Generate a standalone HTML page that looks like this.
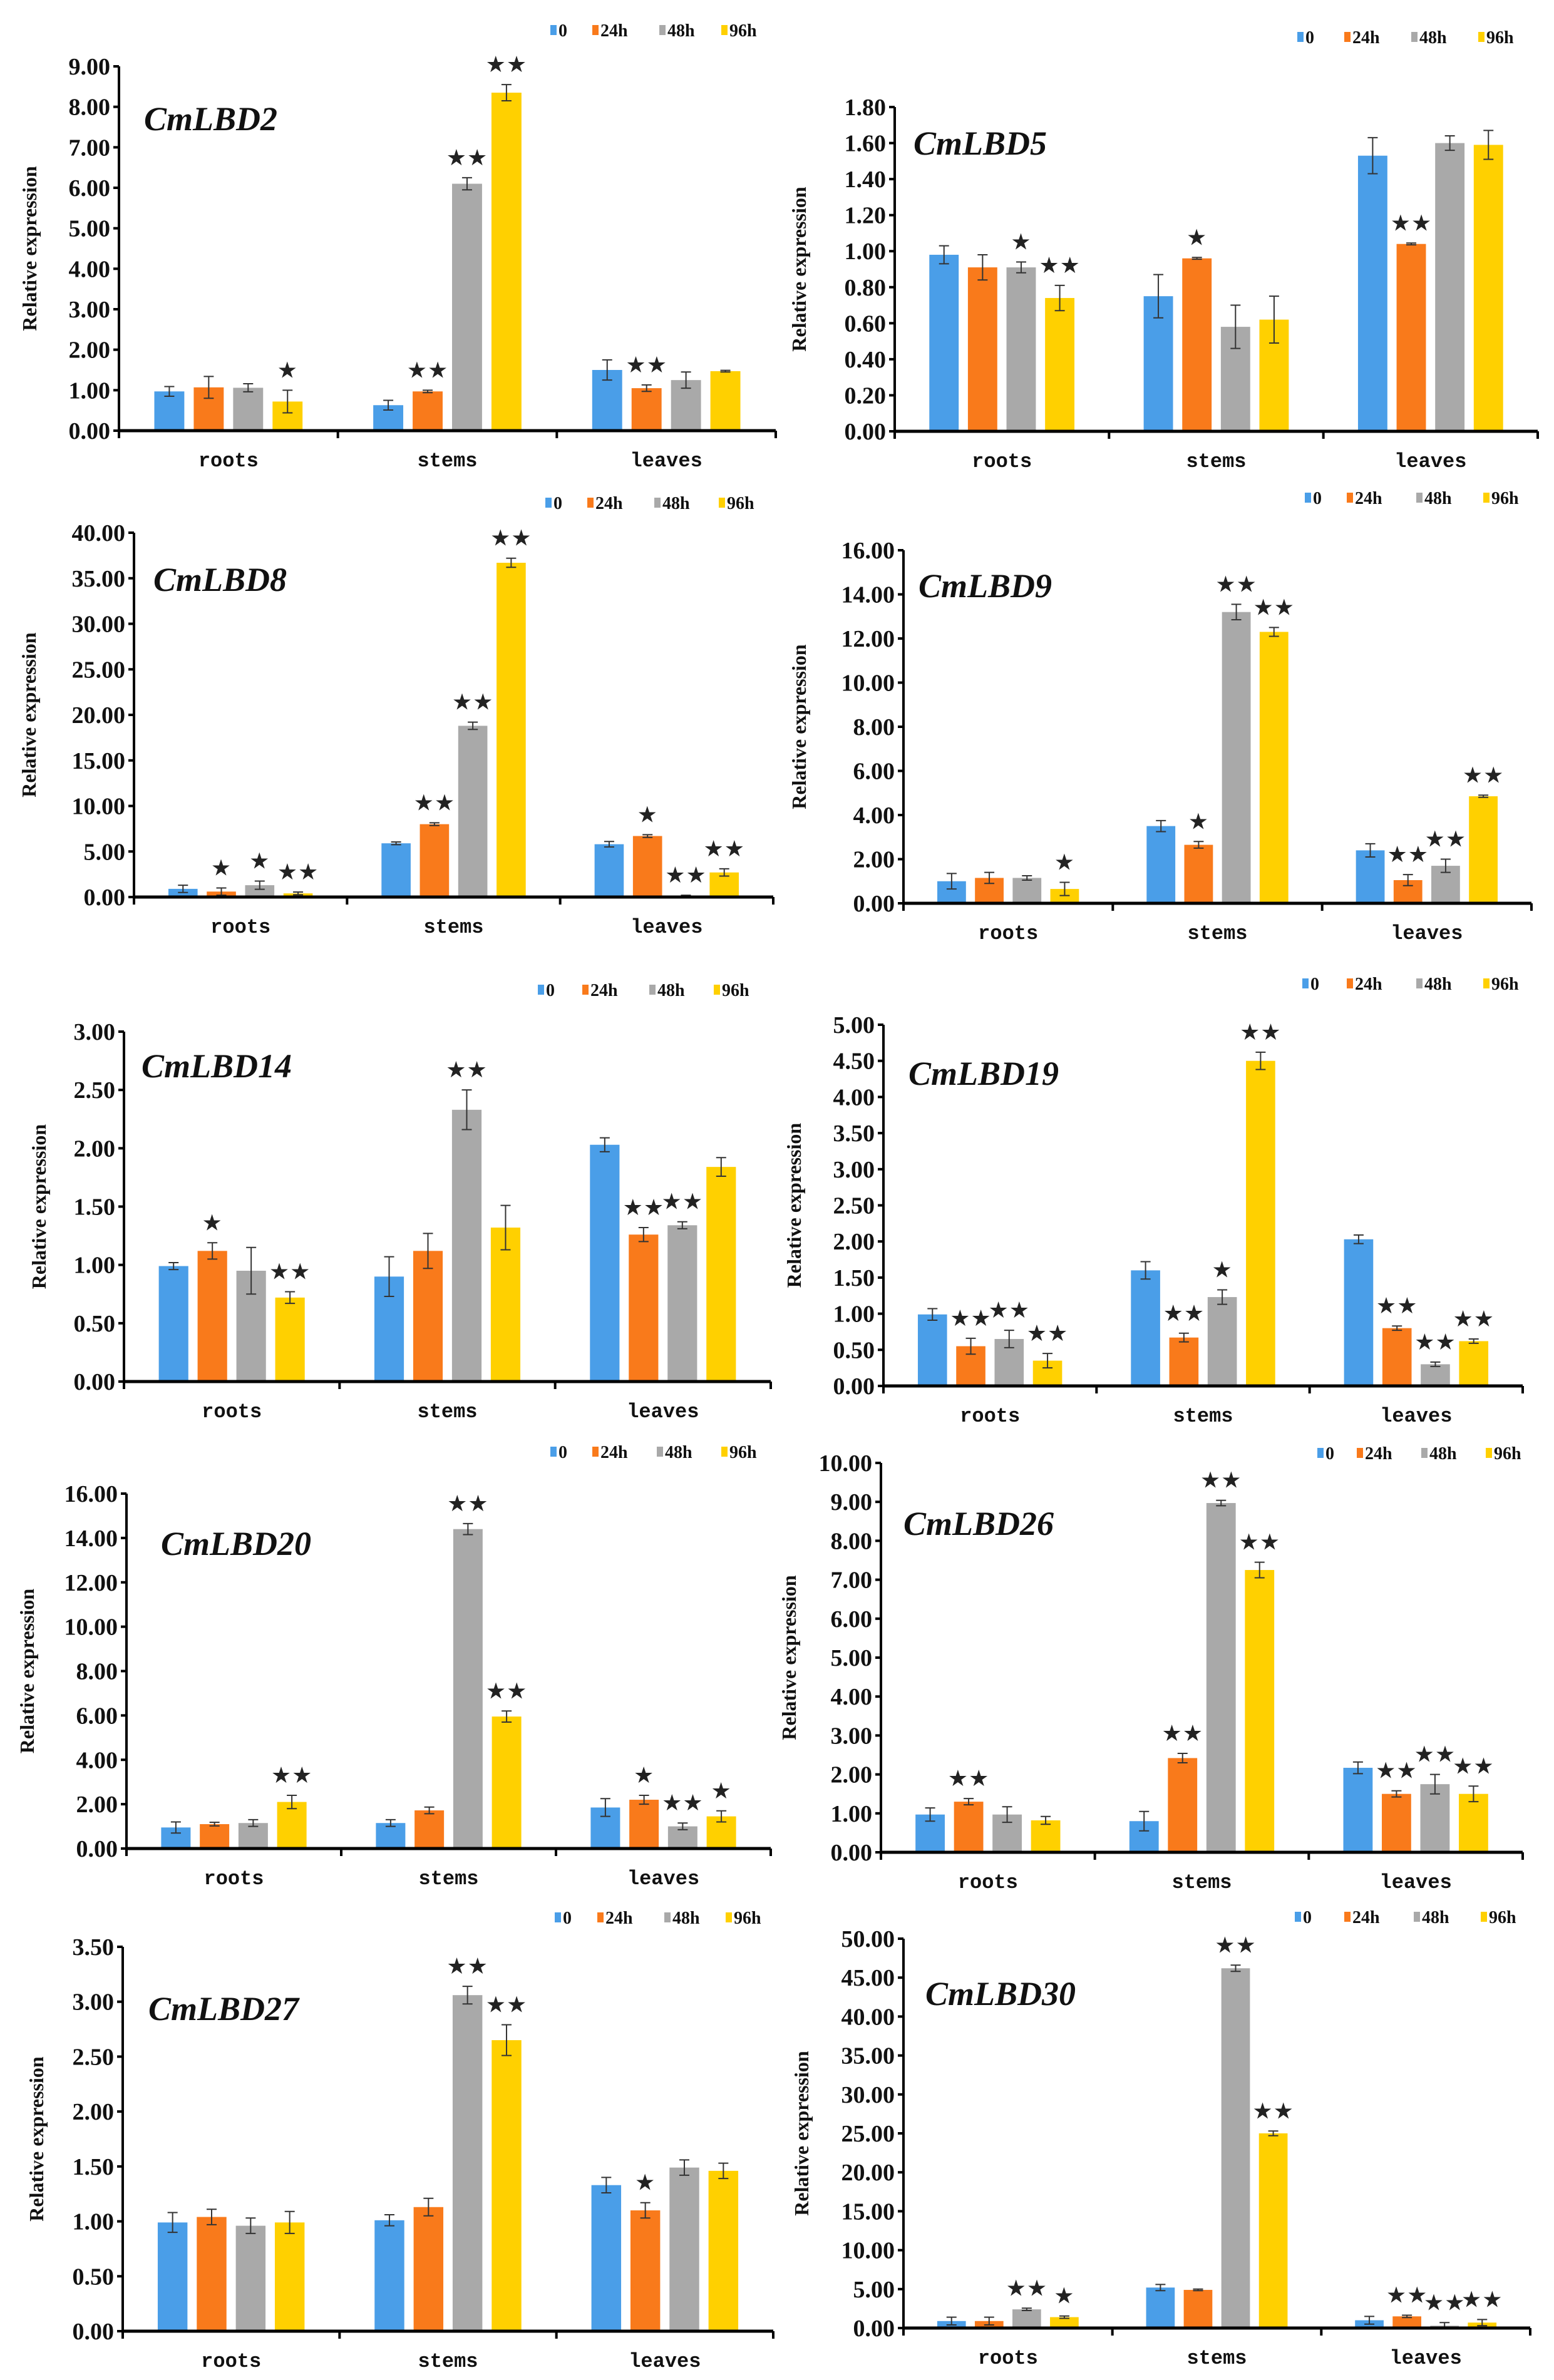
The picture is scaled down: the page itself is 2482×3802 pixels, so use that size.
<!DOCTYPE html>
<html><head><meta charset="utf-8">
<style>
html,body{margin:0;padding:0;background:#fff;}
svg{display:block;}
</style></head>
<body>
<svg id="s" xmlns="http://www.w3.org/2000/svg" width="2482" height="3802" viewBox="0 0 2482 3802"></svg>
<script>
const C=["#4a9ee8","#f97a1b","#a9a9a9","#ffd000"];
const P=[
{t:"CmLBD2",ax:190,top:106,y0:688,xe:1239,max:9,step:1,dp:2,lg:48,li:[879,946,1053,1152],tx:230,ty:208,yl:48,
 d:[[.97,.12,0],[1.07,.27,0],[1.06,.1,0],[.72,.28,1],[.63,.12,0],[.97,.03,2],[6.1,.15,2],[8.35,.2,2],[1.5,.25,0],[1.05,.08,2],[1.25,.2,0],[1.47,.02,0]]},
{t:"CmLBD5",ax:1429,top:171,y0:689,xe:2456,max:1.8,step:.2,dp:2,lg:59,li:[2072,2147,2254,2361],tx:1459,ty:247,yl:1277,
 d:[[.98,.05,0],[.91,.07,0],[.91,.03,1],[.74,.07,2],[.75,.12,0],[.96,.005,1],[.58,.12,0],[.62,.13,0],[1.53,.1,0],[1.04,.005,2],[1.6,.04,0],[1.59,.08,0]]},
{t:"CmLBD8",ax:214,top:851,y0:1433,xe:1235,max:40,step:5,dp:2,lg:803,li:[871,938,1045,1148],tx:245,ty:944,yl:47,
 d:[[.9,.4,0],[.6,.4,1],[1.3,.45,1],[.4,.15,2],[5.9,.15,0],[8,.15,2],[18.8,.4,2],[36.7,.5,2],[5.8,.3,0],[6.7,.15,1],[.15,.05,2],[2.7,.4,2]]},
{t:"CmLBD9",ax:1443,top:879,y0:1443,xe:2446,max:16,step:2,dp:2,lg:795,li:[2084,2151,2262,2369],tx:1467,ty:954,yl:1277,
 d:[[1,.35,0],[1.15,.25,0],[1.15,.1,0],[.65,.3,1],[3.5,.25,0],[2.65,.15,1],[13.2,.35,2],[12.3,.2,2],[2.4,.3,0],[1.05,.25,2],[1.7,.3,2],[4.85,.05,2]]},
{t:"CmLBD14",ax:198,top:1648,y0:2207,xe:1231,max:3,step:.5,dp:2,lg:1581,li:[859,930,1037,1140],tx:226,ty:1721,yl:63,
 d:[[.99,.03,0],[1.12,.07,1],[.95,.2,0],[.72,.05,2],[.9,.17,0],[1.12,.15,0],[2.33,.17,2],[1.32,.19,0],[2.03,.06,0],[1.26,.06,2],[1.34,.03,2],[1.84,.08,0]]},
{t:"CmLBD19",ax:1411,top:1637,y0:2214,xe:2432,max:5,step:.5,dp:2,lg:1571,li:[2080,2151,2262,2369],tx:1451,ty:1733,yl:1269,
 d:[[.99,.08,0],[.55,.11,2],[.65,.12,2],[.35,.1,2],[1.6,.12,0],[.67,.06,2],[1.23,.1,1],[4.5,.12,2],[2.03,.06,0],[.8,.03,2],[.3,.03,2],[.62,.03,2]]},
{t:"CmLBD20",ax:202,top:2386,y0:2953,xe:1231,max:16,step:2,dp:2,lg:2319,li:[879,946,1049,1152],tx:257,ty:2484,yl:44,
 d:[[.95,.25,0],[1.1,.08,0],[1.15,.15,0],[2.1,.3,2],[1.15,.15,0],[1.72,.15,0],[14.4,.25,2],[5.95,.25,2],[1.85,.4,0],[2.2,.2,1],[1,.15,2],[1.45,.25,1]]},
{t:"CmLBD26",ax:1407,top:2337,y0:2959,xe:2432,max:10,step:1,dp:2,lg:2321,li:[2104,2167,2270,2373],tx:1443,ty:2452,yl:1261,
 d:[[.97,.17,0],[1.3,.08,2],[.97,.2,0],[.82,.1,0],[.8,.25,0],[2.42,.12,2],[8.97,.07,2],[7.25,.2,2],[2.17,.15,0],[1.5,.08,2],[1.75,.25,2],[1.5,.2,2]]},
{t:"CmLBD27",ax:196,top:3110,y0:3724,xe:1235,max:3.5,step:.5,dp:2,lg:3063,li:[886,954,1061,1159],tx:237,ty:3227,yl:59,
 d:[[.99,.09,0],[1.04,.07,0],[.96,.07,0],[.99,.1,0],[1.01,.05,0],[1.13,.08,0],[3.06,.08,2],[2.65,.14,2],[1.33,.07,0],[1.1,.07,1],[1.49,.07,0],[1.46,.07,0]]},
{t:"CmLBD30",ax:1443,top:3097,y0:3719,xe:2444,max:50,step:5,dp:2,lg:3062,li:[2068,2147,2258,2365],tx:1478,ty:3203,yl:1281,
 d:[[.9,.5,0],[.9,.5,0],[2.4,.15,2],[1.4,.15,1],[5.2,.4,0],[4.9,.1,0],[46.2,.4,2],[25,.3,2],[1,.5,0],[1.5,.15,2],[.3,.4,2],[.7,.4,2]]}
];
const cats=["roots","stems","leaves"],lg=["0","24h","48h","96h"];
let h="";
for(const p of P){
  const sc=(p.y0-p.top)/p.max, W=(p.xe-p.ax)/3, bw=W*0.137, sp=W*0.18;
  const Y=v=>p.y0-v*sc;
  for(let c=0;c<3;c++){
    const cx=p.ax+W*(c+.5);
    for(let k=0;k<4;k++){
      const [v,e,s]=p.d[c*4+k];
      const bx=cx+(k-1.5)*sp;
      h+=`<rect x="${bx-bw/2}" y="${Y(v)}" width="${bw}" height="${v*sc}" fill="${C[k]}"/>`;
      const t=Y(v+e),b=Y(Math.max(0,v-e));
      h+=`<path d="M${bx} ${t}V${b}M${bx-8} ${t}H${bx+8}M${bx-8} ${b}H${bx+8}" stroke="#333" stroke-width="2" fill="none"/>`;
      if(s){h+=`<text x="${bx}" y="${t-20}" font-family="DejaVu Sans,sans-serif" font-size="36" fill="#222" text-anchor="middle" letter-spacing="1">${s==2?"★★":"★"}</text>`;}
    }
    h+=`<text x="${cx}" y="${p.y0+57}" font-family="Liberation Mono,monospace" font-weight="bold" font-size="32" text-anchor="middle" fill="#111">${cats[c]}</text>`;
  }
  h+=`<path d="M${p.ax} ${p.top}V${p.y0}" stroke="#000" stroke-width="4"/>`;
  h+=`<path d="M${p.ax-2} ${p.y0}H${p.xe}" stroke="#000" stroke-width="5"/>`;
  for(let c=0;c<=3;c++){const x=p.ax+W*c;h+=`<path d="M${x} ${p.y0}V${p.y0+12}" stroke="#000" stroke-width="4"/>`;}
  const n=Math.round(p.max/p.step);
  for(let i=0;i<=n;i++){
    const v=i*p.step,y=Y(v);
    h+=`<path d="M${p.ax-9} ${y}H${p.ax}" stroke="#000" stroke-width="4"/>`;
    h+=`<text x="${p.ax-14}" y="${y+13}" font-family="Liberation Serif,serif" font-weight="bold" font-size="38" text-anchor="end" fill="#111">${v.toFixed(2)}</text>`;
  }
  const ym=(p.top+p.y0)/2;
  h+=`<text transform="translate(${p.yl+10} ${ym}) rotate(-90)" font-family="Liberation Serif,serif" font-weight="bold" font-size="32" text-anchor="middle" fill="#111">Relative  expression</text>`;
  h+=`<text x="${p.tx}" y="${p.ty}" font-family="Liberation Serif,serif" font-weight="bold" font-style="italic" font-size="54" fill="#111">${p.t}</text>`;
  for(let k=0;k<4;k++){
    const x=p.li[k];
    h+=`<rect x="${x}" y="${p.lg-8}" width="10" height="16" fill="${C[k]}"/>`;
    h+=`<text x="${x+13}" y="${p.lg+10}" font-family="Liberation Serif,serif" font-weight="bold" font-size="28" fill="#111">${lg[k]}</text>`;
  }
}
document.getElementById("s").innerHTML=h;
</script>
</body></html>
